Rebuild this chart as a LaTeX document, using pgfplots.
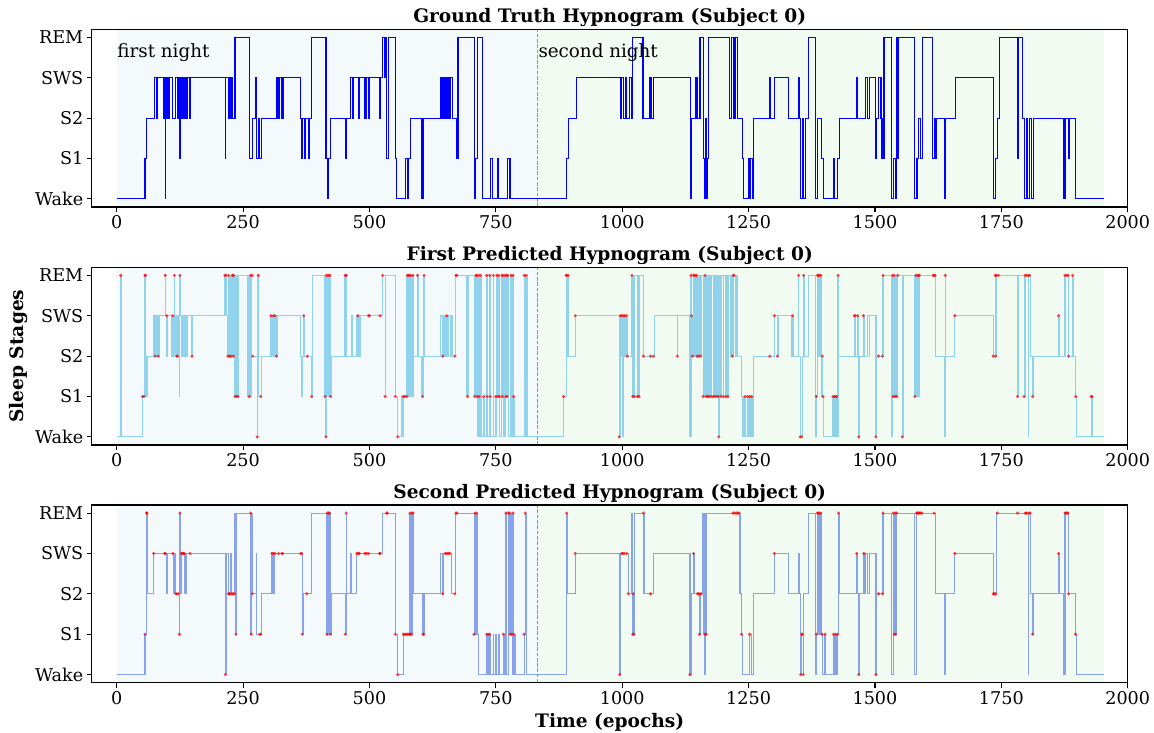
\documentclass[border=0pt]{standalone}
\usepackage{fontspec}
\setmainfont{DejaVu Serif}
\usepackage{pgfplots}
\usepackage{pgfplotstable}
\pgfplotsset{compat=1.18}
\definecolor{gtblue}{RGB}{0,0,255}
\definecolor{skyb}{RGB}{135,206,235}
\definecolor{royal}{RGB}{65,105,225}
\definecolor{bgblue}{RGB}{244,250,252}
\definecolor{bggreen}{RGB}{241,251,241}

\pgfplotstableread[row sep=\\]{x y\\
0 0\\ 56 1\\ 59 2\\ 74 3\\ 79 2\\ 80 3\\ 92 2\\ 94 3\\ 96 0\\ 97 3\\ 99 2\\ 101 3\\ 102 2\\ 104 3\\ 111 2\\ 117 3\\ 120 2\\ 122 3\\ 125 1\\ 126 3\\ 129 2\\ 131 3\\ 133 2\\ 135 3\\ 137 2\\ 140 3\\ 144 2\\ 145 3\\ 215 1\\ 216 3\\ 221 2\\ 223 3\\ 226 2\\ 228 3\\ 229 2\\ 234 4\\ 262 1\\ 269 2\\ 274 3\\ 276 1\\ 280 2\\ 282 1\\ 286 2\\ 317 3\\ 320 2\\ 322 3\\ 327 2\\ 329 3\\ 363 2\\ 365 1\\ 368 2\\ 371 1\\ 374 2\\ 379 1\\ 381 2\\ 386 4\\ 414 1\\ 418 0\\ 419 1\\ 423 2\\ 452 1\\ 455 2\\ 463 3\\ 466 2\\ 468 3\\ 478 2\\ 480 3\\ 491 2\\ 493 3\\ 498 2\\ 500 3\\ 520 2\\ 522 3\\ 526 4\\ 529 3\\ 532 4\\ 534 1\\ 537 4\\ 551 1\\ 553 0\\ 572 1\\ 575 0\\ 577 1\\ 582 2\\ 603 0\\ 606 2\\ 640 3\\ 642 2\\ 644 3\\ 646 2\\ 648 3\\ 650 2\\ 652 3\\ 655 2\\ 657 3\\ 659 2\\ 661 3\\ 664 2\\ 673 1\\ 675 4\\ 707 0\\ 710 1\\ 714 4\\ 723 0\\ 740 1\\ 744 0\\ 753 1\\ 756 0\\ 773 1\\ 778 0\\ 889 1\\ 893 2\\ 910 3\\ 996 2\\ 999 3\\ 1002 2\\ 1006 3\\ 1009 2\\ 1014 3\\ 1019 2\\ 1021 4\\ 1041 2\\ 1055 3\\ 1057 2\\ 1062 3\\ 1135 0\\ 1137 2\\ 1146 3\\ 1149 2\\ 1154 4\\ 1161 1\\ 1163 0\\ 1164 2\\ 1167 0\\ 1169 1\\ 1171 4\\ 1213 2\\ 1216 4\\ 1220 2\\ 1223 4\\ 1228 2\\ 1238 1\\ 1240 0\\ 1250 1\\ 1252 0\\ 1254 1\\ 1257 0\\ 1259 2\\ 1291 3\\ 1294 2\\ 1302 3\\ 1329 2\\ 1348 3\\ 1350 2\\ 1353 0\\ 1356 2\\ 1358 0\\ 1362 2\\ 1368 4\\ 1383 0\\ 1386 2\\ 1395 1\\ 1398 0\\ 1418 1\\ 1420 0\\ 1426 1\\ 1430 2\\ 1463 3\\ 1465 2\\ 1481 3\\ 1485 2\\ 1490 3\\ 1501 1\\ 1503 2\\ 1507 3\\ 1512 2\\ 1514 1\\ 1518 4\\ 1532 0\\ 1536 1\\ 1540 0\\ 1542 4\\ 1544 1\\ 1547 4\\ 1579 0\\ 1583 1\\ 1586 2\\ 1590 1\\ 1594 4\\ 1614 1\\ 1617 2\\ 1619 1\\ 1621 2\\ 1637 0\\ 1640 2\\ 1660 3\\ 1734 0\\ 1738 1\\ 1742 2\\ 1746 4\\ 1782 1\\ 1784 4\\ 1792 2\\ 1796 0\\ 1799 2\\ 1802 0\\ 1805 2\\ 1810 0\\ 1813 2\\ 1874 0\\ 1877 2\\ 1883 1\\ 1885 2\\ 1896 0\\ 1953 0\\
}\gt

\pgfplotstableread[row sep=\\]{x y\\
0 0\\ 8 4\\ 9 0\\ 51 1\\ 55 4\\ 57 1\\ 60 2\\ 73 3\\ 75 2\\ 76 3\\ 78 2\\ 80 3\\ 82 2\\ 84 3\\ 96 4\\ 97 3\\ 99 2\\ 101 3\\ 109 2\\ 111 3\\ 113 2\\ 114 4\\ 115 3\\ 117 2\\ 119 3\\ 120 2\\ 122 3\\ 124 1\\ 125 4\\ 127 3\\ 129 2\\ 131 3\\ 133 2\\ 135 3\\ 137 2\\ 140 3\\ 149 2\\ 150 3\\ 214 4\\ 215 3\\ 216 4\\ 217 3\\ 219 2\\ 221 4\\ 222 2\\ 224 4\\ 225 2\\ 228 4\\ 229 2\\ 231 4\\ 234 1\\ 235 4\\ 237 1\\ 238 4\\ 240 1\\ 241 4\\ 259 1\\ 260 4\\ 261 1\\ 262 4\\ 263 1\\ 264 4\\ 265 1\\ 266 4\\ 267 2\\ 278 0\\ 279 4\\ 281 1\\ 286 2\\ 305 3\\ 306 2\\ 307 3\\ 308 2\\ 309 3\\ 310 2\\ 311 3\\ 313 2\\ 314 3\\ 316 2\\ 317 3\\ 363 2\\ 365 1\\ 367 2\\ 370 3\\ 371 2\\ 386 1\\ 388 4\\ 412 1\\ 413 4\\ 414 0\\ 415 4\\ 416 1\\ 417 4\\ 418 1\\ 419 4\\ 420 1\\ 421 4\\ 423 1\\ 424 2\\ 450 4\\ 451 2\\ 452 4\\ 453 2\\ 454 4\\ 455 2\\ 465 3\\ 466 2\\ 475 3\\ 476 2\\ 477 3\\ 478 2\\ 479 3\\ 480 2\\ 481 3\\ 482 2\\ 483 3\\ 526 4\\ 531 1\\ 532 4\\ 551 1\\ 555 0\\ 563 1\\ 565 0\\ 567 1\\ 573 4\\ 574 1\\ 575 4\\ 576 1\\ 577 4\\ 578 1\\ 579 4\\ 580 1\\ 581 4\\ 583 1\\ 584 4\\ 585 1\\ 586 4\\ 587 2\\ 595 4\\ 596 2\\ 603 1\\ 604 2\\ 605 1\\ 606 2\\ 608 4\\ 609 2\\ 640 3\\ 645 2\\ 646 3\\ 648 2\\ 649 3\\ 651 2\\ 653 3\\ 655 2\\ 657 3\\ 660 2\\ 662 3\\ 665 2\\ 671 4\\ 693 1\\ 695 4\\ 707 1\\ 708 4\\ 710 1\\ 711 4\\ 713 1\\ 714 0\\ 716 4\\ 717 1\\ 718 0\\ 720 4\\ 722 0\\ 726 1\\ 727 0\\ 732 4\\ 733 1\\ 734 0\\ 738 4\\ 739 1\\ 740 0\\ 745 4\\ 746 0\\ 750 1\\ 751 0\\ 752 4\\ 754 1\\ 755 4\\ 757 1\\ 758 0\\ 762 4\\ 763 1\\ 764 4\\ 765 0\\ 768 4\\ 770 1\\ 771 4\\ 772 1\\ 773 4\\ 775 0\\ 780 4\\ 781 0\\ 784 4\\ 785 1\\ 786 0\\ 806 4\\ 808 0\\ 810 4\\ 812 0\\ 884 1\\ 889 4\\ 891 2\\ 893 4\\ 894 2\\ 907 3\\ 994 0\\ 996 3\\ 998 2\\ 999 3\\ 1001 0\\ 1002 3\\ 1004 2\\ 1005 3\\ 1007 2\\ 1008 3\\ 1010 2\\ 1019 4\\ 1021 1\\ 1022 4\\ 1024 1\\ 1025 4\\ 1030 1\\ 1031 4\\ 1033 1\\ 1034 4\\ 1042 2\\ 1064 3\\ 1109 2\\ 1110 3\\ 1134 0\\ 1136 4\\ 1137 3\\ 1139 2\\ 1141 4\\ 1142 2\\ 1144 4\\ 1145 2\\ 1147 4\\ 1148 2\\ 1150 4\\ 1151 2\\ 1153 4\\ 1155 2\\ 1157 4\\ 1160 1\\ 1161 4\\ 1163 1\\ 1164 4\\ 1166 1\\ 1167 4\\ 1169 1\\ 1170 4\\ 1172 1\\ 1174 4\\ 1176 1\\ 1177 4\\ 1180 1\\ 1181 4\\ 1183 1\\ 1184 4\\ 1187 1\\ 1188 4\\ 1190 1\\ 1191 0\\ 1193 4\\ 1195 1\\ 1196 4\\ 1200 1\\ 1201 4\\ 1205 1\\ 1206 4\\ 1209 1\\ 1210 4\\ 1214 2\\ 1216 4\\ 1218 2\\ 1220 4\\ 1224 2\\ 1226 4\\ 1228 2\\ 1236 1\\ 1239 0\\ 1243 1\\ 1244 0\\ 1248 1\\ 1250 0\\ 1252 1\\ 1254 0\\ 1256 1\\ 1257 0\\ 1259 2\\ 1301 3\\ 1307 2\\ 1309 3\\ 1335 2\\ 1337 3\\ 1338 2\\ 1348 4\\ 1349 2\\ 1352 0\\ 1357 2\\ 1359 4\\ 1360 2\\ 1368 4\\ 1383 0\\ 1384 1\\ 1386 4\\ 1387 2\\ 1388 4\\ 1389 2\\ 1390 4\\ 1392 2\\ 1393 4\\ 1395 1\\ 1396 2\\ 1397 1\\ 1398 0\\ 1417 1\\ 1418 0\\ 1420 1\\ 1421 0\\ 1423 1\\ 1426 0\\ 1427 4\\ 1428 2\\ 1459 3\\ 1461 2\\ 1466 3\\ 1467 2\\ 1468 0\\ 1469 2\\ 1477 3\\ 1479 2\\ 1485 3\\ 1489 2\\ 1490 3\\ 1502 0\\ 1503 2\\ 1516 4\\ 1533 0\\ 1535 4\\ 1536 1\\ 1538 4\\ 1540 1\\ 1541 4\\ 1543 1\\ 1544 4\\ 1554 0\\ 1556 4\\ 1579 1\\ 1580 4\\ 1581 1\\ 1582 4\\ 1583 1\\ 1584 4\\ 1585 1\\ 1586 4\\ 1587 1\\ 1588 4\\ 1620 2\\ 1638 0\\ 1639 4\\ 1640 2\\ 1658 3\\ 1734 2\\ 1738 4\\ 1739 2\\ 1740 4\\ 1782 1\\ 1783 4\\ 1795 1\\ 1797 4\\ 1803 0\\ 1804 4\\ 1807 2\\ 1812 1\\ 1813 2\\ 1863 3\\ 1864 2\\ 1876 4\\ 1883 2\\ 1891 4\\ 1892 2\\ 1897 1\\ 1899 0\\ 1928 1\\ 1931 0\\ 1953 0\\
}\pone

\pgfplotstableread[row sep=\\]{x y\\
0 0\\ 56 1\\ 59 4\\ 61 2\\ 72 3\\ 99 2\\ 101 3\\ 113 2\\ 114 3\\ 117 2\\ 124 1\\ 125 4\\ 126 2\\ 128 3\\ 135 2\\ 137 3\\ 215 0\\ 217 3\\ 221 2\\ 226 3\\ 227 2\\ 234 4\\ 236 1\\ 237 4\\ 264 1\\ 265 4\\ 266 1\\ 267 4\\ 268 2\\ 276 3\\ 277 1\\ 286 2\\ 306 3\\ 308 2\\ 309 3\\ 311 2\\ 312 3\\ 367 1\\ 369 2\\ 386 4\\ 416 1\\ 417 4\\ 418 1\\ 419 4\\ 420 1\\ 421 4\\ 423 1\\ 425 2\\ 452 1\\ 454 4\\ 455 2\\ 463 3\\ 465 2\\ 474 3\\ 526 4\\ 551 1\\ 556 0\\ 567 1\\ 580 4\\ 581 1\\ 582 4\\ 583 1\\ 584 4\\ 587 2\\ 606 1\\ 608 2\\ 640 3\\ 645 2\\ 646 3\\ 662 2\\ 671 4\\ 707 1\\ 709 4\\ 711 1\\ 712 4\\ 714 1\\ 715 0\\ 732 1\\ 733 0\\ 735 1\\ 737 0\\ 738 1\\ 739 0\\ 745 1\\ 746 0\\ 750 1\\ 751 0\\ 756 1\\ 757 0\\ 765 1\\ 766 0\\ 770 4\\ 771 0\\ 775 4\\ 776 1\\ 777 4\\ 778 1\\ 780 4\\ 781 1\\ 783 0\\ 784 4\\ 785 1\\ 788 0\\ 806 1\\ 808 4\\ 810 0\\ 890 4\\ 892 2\\ 907 3\\ 995 0\\ 997 3\\ 1012 2\\ 1019 4\\ 1021 1\\ 1022 2\\ 1023 1\\ 1024 4\\ 1043 2\\ 1062 3\\ 1134 0\\ 1136 2\\ 1141 3\\ 1142 2\\ 1153 1\\ 1154 2\\ 1158 4\\ 1160 1\\ 1161 4\\ 1162 0\\ 1164 1\\ 1165 4\\ 1166 1\\ 1167 4\\ 1233 2\\ 1236 1\\ 1238 0\\ 1252 1\\ 1255 0\\ 1259 2\\ 1301 3\\ 1329 2\\ 1348 3\\ 1350 2\\ 1353 0\\ 1355 1\\ 1358 0\\ 1359 2\\ 1368 4\\ 1383 0\\ 1384 1\\ 1386 4\\ 1387 1\\ 1388 4\\ 1389 1\\ 1390 4\\ 1392 1\\ 1393 4\\ 1395 1\\ 1397 0\\ 1401 1\\ 1402 0\\ 1418 1\\ 1420 0\\ 1422 1\\ 1424 0\\ 1426 1\\ 1428 4\\ 1430 2\\ 1464 3\\ 1466 2\\ 1468 0\\ 1469 2\\ 1478 3\\ 1480 2\\ 1481 3\\ 1485 2\\ 1490 3\\ 1502 0\\ 1503 2\\ 1516 4\\ 1532 0\\ 1536 4\\ 1538 1\\ 1540 4\\ 1541 1\\ 1543 4\\ 1579 0\\ 1582 4\\ 1619 2\\ 1638 0\\ 1640 2\\ 1658 3\\ 1734 2\\ 1740 4\\ 1803 0\\ 1804 4\\ 1808 2\\ 1812 1\\ 1813 2\\ 1863 3\\ 1864 2\\ 1874 0\\ 1876 4\\ 1883 2\\ 1897 1\\ 1899 0\\ 1953 0\\
}\ptwo

\pgfplotsset{hyp/.style={
  scale only axis, width=1036pt, height=177.7pt,
  xmin=-49.5, xmax=2000, ymin=-0.2, ymax=4.2,
  xtick={0,250,...,2000}, ytick={0,1,2,3,4},
  yticklabels={Wake,S1,S2,SWS,REM},
  tick pos=left, tick align=outside,
  major tick length=4.9pt,
  every tick/.style={black, line width=1.1pt},
  axis line style={line width=1.1pt},
  axis on top,
  tick label style={font=\fontsize{17.6}{21}\selectfont},
  /pgf/number format/assume math mode=true,
  /pgf/number format/set thousands separator={},
  title style={font=\bfseries\fontsize{18.6}{22}\selectfont, yshift=-7pt},
  label style={font=\bfseries\fontsize{18.6}{22}\selectfont},
  clip=true,
},
dots/.style={only marks, mark=*, mark size=1.4pt, draw=red, fill=red, opacity=0.6}}

\newcommand{\bgspans}{%
  \addplot[fill=bgblue, draw=none] coordinates {(0,-0.2) (0,4.2) (833,4.2) (833,-0.2) (0,-0.2)};
  \addplot[fill=bggreen, draw=none] coordinates {(833,-0.2) (833,4.2) (1953,4.2) (1953,-0.2) (833,-0.2)};
  \addplot[gray!85, line width=1pt, dash pattern=on 3.7pt off 1.6pt] coordinates {(833,-0.2) (833,4.2)};
}

\begin{document}
\begin{tikzpicture}
\path[use as bounding box] (0,0) rectangle (1154pt,732pt);

% --- top panel
\begin{axis}[hyp, at={(91.7pt,525pt)}, anchor=south west,
  title={Ground Truth Hypnogram (Subject 0)}]
\bgspans
\addplot[const plot mark left, gtblue, line width=1.15pt] table[x=x,y=y] {\gt};
\node[anchor=base west, inner sep=0pt, font=\fontsize{18.3}{22}\selectfont] at (axis cs:1,3.5) {first night};
\node[anchor=base west, inner sep=0pt, font=\fontsize{18.3}{22}\selectfont] at (axis cs:834,3.5) {second night};
\end{axis}

% --- middle panel
\begin{axis}[hyp, at={(91.7pt,287pt)}, anchor=south west,
  title={First Predicted Hypnogram (Subject 0)},
  ylabel={Sleep Stages},
  ylabel style={at={(axis description cs:-0.0711,0.5)}, anchor=center, rotate=0}]
\bgspans
\addplot[const plot mark left, skyb, line width=1.15pt, opacity=0.9] table[x=x,y=y] {\pone};
\addplot[dots] coordinates {
(8,4) (51,1) (54,1) (56,4) (57,4) (76,2) (82,2) (96,4) (99,3) (111,3) (114,4) (119,2) (120,2) (125,4) (149,2)
(214,4) (216,4) (220,2) (221,4) (223,2) (226,2) (229,4) (231,2) (231,4) (234,1) (237,1) (240,1) (262,1) (265,4) (268,4) (269,2) (278,0) (280,4) (285,1)
(305,3) (310,3) (313,3) (316,2) (370,3) (377,2) (386,1) (412,1) (414,0) (415,4) (419,4) (422,4) (423,1) (452,4) (454,4)
(477,3) (498,3) (500,3) (521,3) (526,4) (531,1) (551,1) (556,0) (567,1) (570,1) (574,1) (575,4) (577,4) (579,4) (582,4) (586,4) (595,4) (605,1) (608,4) (645,2)
(653,3) (669,2) (671,4) (673,4) (694,1) (708,1) (711,4) (712,4) (713,1) (716,4) (717,1) (720,4) (726,1) (732,4) (733,1) (738,4) (739,1) (745,4) (750,1) (752,4) (754,1) (755,4) (757,1) (762,4) (763,1) (764,4) (768,4) (770,1) (771,4) (772,1) (773,4) (780,4) (784,4) (785,1) (806,4) (810,4)
(884,1) (889,4) (890,4) (893,4) (907,3) (994,0) (996,3) (999,3) (1002,3) (1005,3) (1008,3) (1010,2) (1019,4) (1021,1) (1024,1) (1030,1) (1033,1) (1042,2) (1056,2) (1062,2) (1109,2)
(1136,4) (1137,3) (1139,2) (1141,4) (1144,4) (1147,4) (1148,2) (1151,2) (1155,2) (1160,1) (1164,4) (1166,1) (1169,1) (1172,1) (1176,1) (1180,1) (1183,1) (1187,1) (1190,1) (1191,0) (1195,1) (1200,1) (1205,1) (1209,1) (1218,2) (1220,4) (1221,4)
(1243,1) (1248,1) (1252,1) (1256,1) (1292,2) (1301,3) (1307,2)
(1337,3) (1349,4) (1352,0) (1355,0) (1359,4) (1384,1) (1386,4) (1388,4) (1390,4) (1393,4) (1396,2) (1397,1) (1417,1) (1420,1) (1423,1) (1424,1) (1427,4) (1459,3) (1461,3) (1466,3) (1468,0) (1477,3) (1502,0) (1507,2) (1515,2) (1516,4) (1535,4) (1536,1) (1538,4) (1540,1) (1543,1) (1545,4) (1554,0)
(1579,1) (1581,4) (1584,4) (1586,4) (1588,4) (1615,4) (1617,4) (1619,4) (1639,4) (1658,3) (1734,2) (1738,4) (1739,2) (1740,4) (1744,4) (1782,1) (1795,1) (1797,4) (1800,4) (1804,4) (1806,4) (1812,1) (1863,3) (1876,4) (1879,4) (1882,4) (1883,2) (1891,4) (1897,1) (1928,1) (1929,1)
};
\end{axis}

% --- bottom panel
\begin{axis}[hyp, at={(91.7pt,49.3pt)}, anchor=south west,
  title={Second Predicted Hypnogram (Subject 0)},
  xlabel={Time (epochs)},
  xlabel style={at={(axis description cs:0.5,-0.221)}, anchor=center}]
\bgspans
\addplot[const plot mark left, royal, line width=1.15pt, opacity=0.6] table[x=x,y=y] {\ptwo};
\addplot[dots] coordinates {
(56,1) (59,4) (60,4) (73,3) (95,3) (96,3) (111,3) (117,2) (119,2) (122,2) (124,1) (125,4) (128,3) (130,3) (132,3) (134,3) (145,3)
(215,0) (221,2) (223,2) (224,2) (228,2) (230,2) (233,2) (236,1) (265,4) (266,1) (268,2) (283,1) (285,1)
(307,3) (310,3) (313,3) (320,3) (327,3) (328,3) (364,3) (366,3) (367,1) (376,2) (416,1) (417,4) (419,4) (421,4) (423,1) (452,1) (454,4)
(475,3) (478,3) (480,3) (491,3) (494,3) (498,3) (520,3) (521,3) (534,4) (535,4) (551,1) (556,0) (567,1) (570,1) (573,1) (576,1) (579,1) (580,4) (581,1) (583,1) (584,4) (586,4) (606,1) (607,1)
(645,2) (650,3) (653,3) (656,3) (659,3) (669,2) (671,4) (673,4) (707,1) (709,4) (712,4) (732,1) (735,1) (738,1) (765,1) (770,4) (775,4) (777,4) (778,1) (781,1) (784,4) (785,1) (806,1) (808,4)
(890,4) (907,3) (995,0) (999,3) (1001,3) (1004,3) (1009,3) (1012,2) (1021,1) (1022,2) (1023,1) (1042,4) (1056,2)
(1134,0) (1141,3) (1149,2) (1151,2) (1153,1) (1154,2) (1156,2) (1164,1) (1166,1) (1219,4) (1222,4) (1226,4) (1229,4) (1231,4) (1236,1) (1252,1) (1301,3)
(1353,0) (1355,1) (1356,1) (1358,0) (1384,1) (1386,4) (1388,4) (1390,4) (1393,4) (1395,1) (1401,1) (1418,1) (1422,1) (1426,1) (1428,4) (1464,3) (1468,0) (1478,3) (1502,0) (1507,2) (1515,2) (1516,4)
(1536,4) (1538,1) (1540,4) (1541,1) (1543,4) (1582,4) (1584,4) (1586,4) (1588,4) (1590,4) (1593,4) (1617,4) (1658,3) (1734,2) (1736,2) (1739,2) (1742,4) (1782,4) (1797,4) (1799,4) (1801,4) (1805,4) (1807,4) (1812,1) (1863,3) (1876,4) (1878,4) (1880,4) (1882,4) (1883,2) (1897,1)
};
\end{axis}
\end{tikzpicture}
\end{document}
